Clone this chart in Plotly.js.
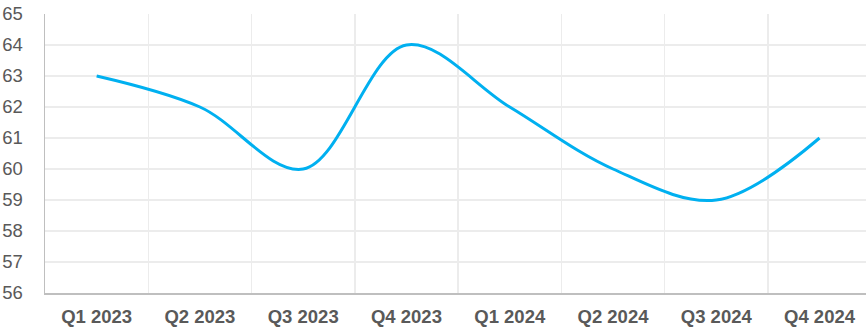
<!DOCTYPE html>
<html>
<head>
<meta charset="utf-8">
<script src="https://cdn.plot.ly/plotly-3.0.1.min.js"></script>
<style>
  html, body { margin: 0; padding: 0; background: #ffffff; overflow: hidden; }
  #chart { width: 866px; height: 334px; }
</style>
</head>
<body>
<div id="chart"></div>
<script>
// Quarterly index values
const quarters = ["Q1 2023", "Q2 2023", "Q3 2023", "Q4 2023", "Q1 2024", "Q2 2024", "Q3 2024", "Q4 2024"];
const values = [63, 62, 60, 64, 62, 60, 59, 61];
const yTicks = [56, 57, 58, 59, 60, 61, 62, 63, 64, 65];

const trace = {
  type: "scatter",
  mode: "lines",
  x: quarters,
  y: values,
  line: { color: "#00B0F0", width: 3, shape: "spline", smoothing: 1 },
  hoverinfo: "x+y"
};

const layout = {
  width: 866,
  height: 334,
  margin: { l: 45, r: 0, t: 14, b: 41 },
  paper_bgcolor: "#ffffff",
  plot_bgcolor: "#ffffff",
  showlegend: false,
  font: { family: "Liberation Sans, Arial, sans-serif", color: "#595959" },
  xaxis: {
    type: "category",
    range: [-0.5, 7.45],
    tickson: "boundaries",
    showgrid: true,
    gridcolor: "#ececec",
    gridwidth: 1.5,
    showline: true,
    linecolor: "#bfbfbf",
    linewidth: 1.5,
    ticks: "",
    ticklabelstandoff: 6,
    tickfont: { size: 18.5, color: "#595959", family: "Liberation Sans, Arial, sans-serif", weight: "bold" },
    zeroline: false,
    fixedrange: true
  },
  yaxis: {
    range: [56, 65],
    tickvals: yTicks,
    ticktext: yTicks.map(String),
    showgrid: true,
    gridcolor: "#ececec",
    gridwidth: 1.5,
    showline: true,
    linecolor: "#bfbfbf",
    linewidth: 1.5,
    ticks: "",
    ticklabelstandoff: 17,
    tickfont: { size: 18.5, color: "#595959", family: "Liberation Sans, Arial, sans-serif" },
    zeroline: false,
    fixedrange: true
  }
};

Plotly.newPlot("chart", [trace], layout, { displayModeBar: false, staticPlot: true });
</script>
</body>
</html>
